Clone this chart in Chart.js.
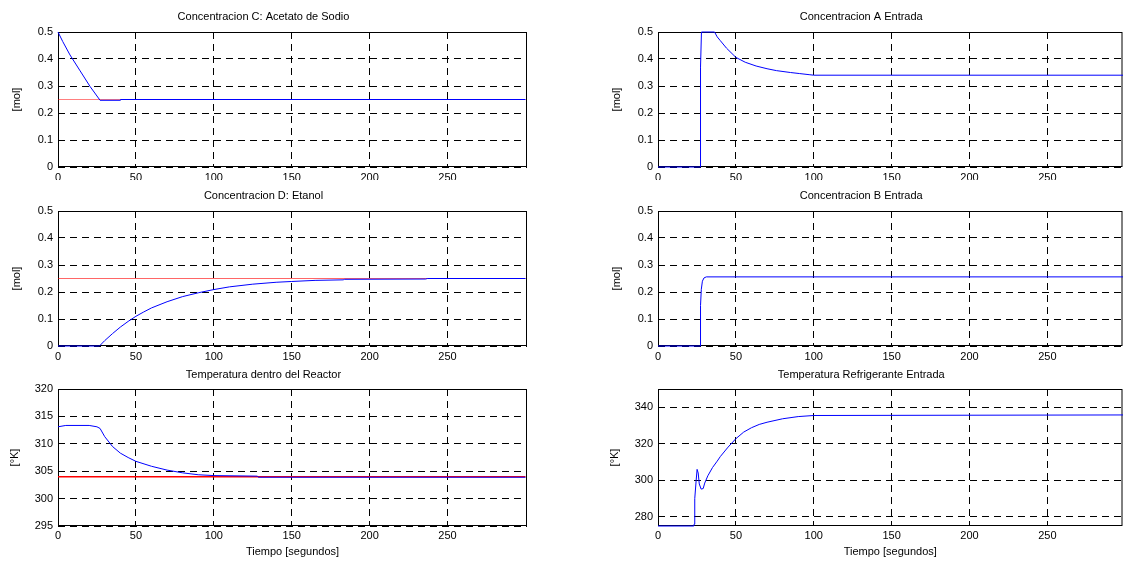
<!DOCTYPE html>
<html>
<head>
<meta charset="utf-8">
<script src="https://cdn.jsdelivr.net/npm/chart.js@4.4.0/dist/chart.umd.min.js"></script>
<style>
  html, body { margin: 0; padding: 0; background: #fff; width: 1123px; height: 561px; overflow: hidden; }
  canvas { position: absolute; }
</style>
</head>
<body>
<canvas id="plotC"></canvas>
<canvas id="plotD"></canvas>
<canvas id="plotT"></canvas>
<canvas id="plotA"></canvas>
<canvas id="plotB"></canvas>
<canvas id="plotTr"></canvas>
<script>
// tick labels
const timeTicks = [0, 50, 100, 150, 200, 250];
const molTicks = [0, 0.1, 0.2, 0.3, 0.4, 0.5];
const reactorTicks = [295, 300, 305, 310, 315, 320];
const coolantTicks = [280, 300, 320, 340];

// setpoints (red lines)
const refTime = [0, 300];
const refC = [0.25, 0.25];
const refD = [0.25, 0.25];
const refT = [304, 304];

// Concentracion C: Acetato de Sodio
const timeC = [0, 3, 7.7, 14.2, 20.6, 27, 40, 40.1, 300];
const concC = [0.5, 0.465, 0.415, 0.356, 0.298, 0.247, 0.247, 0.25, 0.25];

// Concentracion D: Etanol
const timeD = [0, 26.6, 30, 35, 40, 45, 50, 55, 60, 70, 80, 90, 100, 110, 125, 140, 150, 165, 183, 184, 236, 237, 300];
const concD = [0, 0, 0.02, 0.046, 0.07, 0.091, 0.11, 0.126, 0.141, 0.164, 0.183, 0.197, 0.209, 0.219, 0.229, 0.236, 0.239, 0.243, 0.245, 0.247, 0.248, 0.25, 0.25];

// Temperatura dentro del Reactor
const timeT = [0, 5, 20, 25, 27, 30, 35, 40, 45, 50, 60, 70, 80, 90, 100, 128, 128.5, 300];
const tempT = [313.1, 313.35, 313.35, 313.1, 312.8, 311.3, 309.5, 308.3, 307.5, 306.8, 305.9, 305.2, 304.7, 304.35, 304.2, 304.1, 303.9, 303.9];

// Concentracion A Entrada
const timeA = [0, 27.2, 27.3, 27.9, 36.3, 38, 40, 44, 50, 56, 63, 70, 76, 85, 91, 97, 100, 300];
const concA = [0, 0, 0.37, 0.5, 0.5, 0.482, 0.468, 0.44, 0.406, 0.388, 0.374, 0.364, 0.357, 0.35, 0.346, 0.342, 0.34, 0.34];

// Concentracion B Entrada
const timeB = [0, 27, 27.3, 27.8, 28.5, 29.5, 31, 300];
const concB = [0, 0, 0.15, 0.21, 0.24, 0.252, 0.256, 0.256];

// Temperatura Refrigerante Entrada
const timeTr = [0, 23, 23.2, 23.6, 24.5, 25.1, 25.8, 26.5, 27.7, 29, 30, 32, 35, 38, 40, 45, 50, 55, 60, 65, 70, 80, 90, 100, 300];
const tempTr = [275, 275, 276, 290, 300, 306, 304, 298, 295.2, 295.5, 298.5, 302.5, 307, 310.5, 313, 318.2, 322.8, 326.4, 328.8, 330.6, 331.8, 333.7, 334.9, 335.5, 335.8];

Chart.defaults.font.family = '"Liberation Sans", Arial, sans-serif';
Chart.defaults.font.size = 11;
Chart.defaults.color = '#000';

const toPoints = (xs, ys) => xs.map((x, i) => ({ x, y: ys[i] }));

// axes box drawn under the curves
const boxPlugin = {
  id: 'box',
  beforeDatasetsDraw(chart) {
    const { ctx, chartArea: a } = chart;
    ctx.save();
    ctx.strokeStyle = '#000';
    ctx.lineWidth = 1;
    ctx.setLineDash([]);
    ctx.strokeRect(a.left + 0.5, a.top + 0.5, a.width - 1, a.height - 1);
    ctx.restore();
  }
};

function makePlot(id, p) {
  const canvas = document.getElementById(id);
  canvas.width = p.w;
  canvas.height = p.h;
  canvas.style.left = p.left + 'px';
  canvas.style.top = p.top + 'px';

  const datasets = [{
    data: toPoints(p.xs, p.ys),
    borderColor: '#0000ff',
    borderWidth: 1,
    clip: 2
  }];
  if (p.refYs) {
    datasets.push({
      data: toPoints(refTime, p.refYs),
      borderColor: p.refColor,
      borderWidth: p.refWidth,
      clip: 2
    });
  }

  new Chart(canvas, {
    type: 'line',
    data: { datasets },
    options: {
      responsive: false,
      animation: false,
      events: [],
      layout: { padding: { left: 0, right: p.w - p.plotRight, top: p.padTop, bottom: 0 } },
      elements: { point: { radius: 0 }, line: { tension: 0 } },
      plugins: {
        legend: { display: false },
        tooltip: { enabled: false },
        title: {
          display: true,
          text: p.title,
          font: { size: 11, weight: 'normal' },
          padding: { top: 0, bottom: p.titleGap }
        }
      },
      scales: {
        x: {
          type: 'linear',
          min: 0,
          max: p.xMax,
          afterBuildTicks: s => { s.ticks = timeTicks.map(v => ({ value: v })); },
          afterFit: s => { s.height = p.xH; },
          ticks: { padding: p.xPad, maxRotation: 0, callback: v => String(v) },
          grid: { color: '#000', lineWidth: 1, drawTicks: false },
          border: { display: false, dash: [7, 5] },
          title: {
            display: !!p.xLabel,
            text: p.xLabel || '',
            font: { size: 11 },
            padding: { top: 0, bottom: 2.7 }
          }
        },
        y: {
          min: p.yMin,
          max: p.yMax,
          afterBuildTicks: s => { s.ticks = p.yTicks.map(v => ({ value: v })); },
          afterFit: s => { s.width = 58; },
          ticks: { padding: 5, callback: v => String(v) },
          grid: { color: '#000', lineWidth: 1, drawTicks: false },
          border: { display: false, dash: [7, 5] },
          title: {
            display: true,
            text: p.yLabel,
            font: { size: 11 },
            padding: { top: p.yTitlePad, bottom: 0 }
          }
        }
      }
    },
    plugins: [boxPlugin]
  });
}

const leftCol = { left: 0, w: 585, plotRight: 527, xMax: 301 };
const rightCol = { left: 600, w: 580, plotRight: 522.5, xMax: 298.2 };
const row1 = { top: 0, h: 180, padTop: 10, titleGap: 8.8, xH: 13, xPad: 4.5, yTitlePad: 10 };
const row2 = { top: 180, h: 180, padTop: 9.4, titleGap: 8.4, xH: 14, xPad: 4.5, yTitlePad: 10 };
const row3 = { top: 360, h: 201, padTop: 8.6, titleGap: 7.2, xH: 35, xPad: 3, yTitlePad: 8.5 };

makePlot('plotC', Object.assign({}, leftCol, row1, {
  title: 'Concentracion C: Acetato de Sodio', yLabel: '[mol]',
  xs: timeC, ys: concC, refYs: refC, refColor: 'rgba(255,0,0,0.5)', refWidth: 1,
  yMin: 0, yMax: 0.5, yTicks: molTicks
}));
makePlot('plotD', Object.assign({}, leftCol, row2, {
  title: 'Concentracion D: Etanol', yLabel: '[mol]',
  xs: timeD, ys: concD, refYs: refD, refColor: 'rgba(255,0,0,0.6)', refWidth: 1,
  yMin: 0, yMax: 0.5, yTicks: molTicks
}));
makePlot('plotT', Object.assign({}, leftCol, row3, {
  title: 'Temperatura dentro del Reactor', yLabel: '[°K]', xLabel: 'Tiempo [segundos]',
  xs: timeT, ys: tempT, refYs: refT, refColor: '#ff0000', refWidth: 1.5,
  yMin: 295, yMax: 320, yTicks: reactorTicks
}));
makePlot('plotA', Object.assign({}, rightCol, row1, {
  title: 'Concentracion A Entrada', yLabel: '[mol]',
  xs: timeA, ys: concA,
  yMin: 0, yMax: 0.5, yTicks: molTicks
}));
makePlot('plotB', Object.assign({}, rightCol, row2, {
  title: 'Concentracion B Entrada', yLabel: '[mol]',
  xs: timeB, ys: concB,
  yMin: 0, yMax: 0.5, yTicks: molTicks
}));
makePlot('plotTr', Object.assign({}, rightCol, row3, {
  title: 'Temperatura Refrigerante Entrada', yLabel: '[°K]', xLabel: 'Tiempo [segundos]',
  xs: timeTr, ys: tempTr,
  yMin: 275, yMax: 350, yTicks: coolantTicks
}));
</script>
</body>
</html>
